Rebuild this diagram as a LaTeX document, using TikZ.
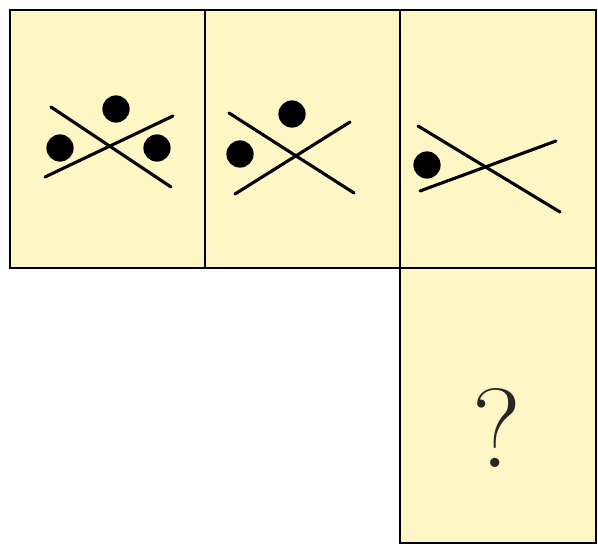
\documentclass[tikz,border=0pt]{standalone}
\usepackage{fontspec}
\usepackage{tikz}
\usetikzlibrary{positioning}

\definecolor{paper}{RGB}{254,246,196}

\begin{document}
\begin{tikzpicture}[
  x=0.025cm, y=-0.025cm,
  %% ── Panel styles ────────────────────────────────────────────────────────
  panel/.style={draw, line width=2pt, fill=paper},
  %% ── Mark styles ─────────────────────────────────────────────────────────
  stroke/.style={line width=2.2pt, line cap=round},
  dot/.style={fill=black},
  ask/.style={font=\fontsize{80}{90}\selectfont, inner sep=0pt, text=black!85},
]
\useasboundingbox (0,0) rectangle (598,546);

%% ═══════════════════════════════════════════════════════════════════════════
%% PANELS
%% ═══════════════════════════════════════════════════════════════════════════

\draw[panel] (10,10)   rectangle (205,268);
\draw[panel] (205,10)  rectangle (400,268);
\draw[panel] (400,10)  rectangle (596,268);
\draw[panel] (400,268) rectangle (596,543);

%% ═══════════════════════════════════════════════════════════════════════════
%% CROSSES AND DOTS
%% ═══════════════════════════════════════════════════════════════════════════

%% — Panel one: three dots ───────────────────────────────────────────────────
\draw[stroke] (51,107) -- (171,187);
\draw[stroke] (45,177) -- (173,116);
\fill[dot] (116,109) circle (0.34cm);
\fill[dot] (60,148)  circle (0.34cm);
\fill[dot] (157,148) circle (0.34cm);

%% — Panel two: two dots ─────────────────────────────────────────────────────
\draw[stroke] (229,113) -- (354,193);
\draw[stroke] (235,194) -- (350,122);
\fill[dot] (292,114) circle (0.34cm);
\fill[dot] (240,154) circle (0.34cm);

%% — Panel three: one dot ────────────────────────────────────────────────────
\draw[stroke] (418,126) -- (560,212);
\draw[stroke] (420,191) -- (556,141);
\fill[dot] (427,165) circle (0.34cm);

%% ═══════════════════════════════════════════════════════════════════════════
%% MISSING PANEL
%% ═══════════════════════════════════════════════════════════════════════════

\node[ask] (qmark) at (497,428) {?};

\end{tikzpicture}
\end{document}
